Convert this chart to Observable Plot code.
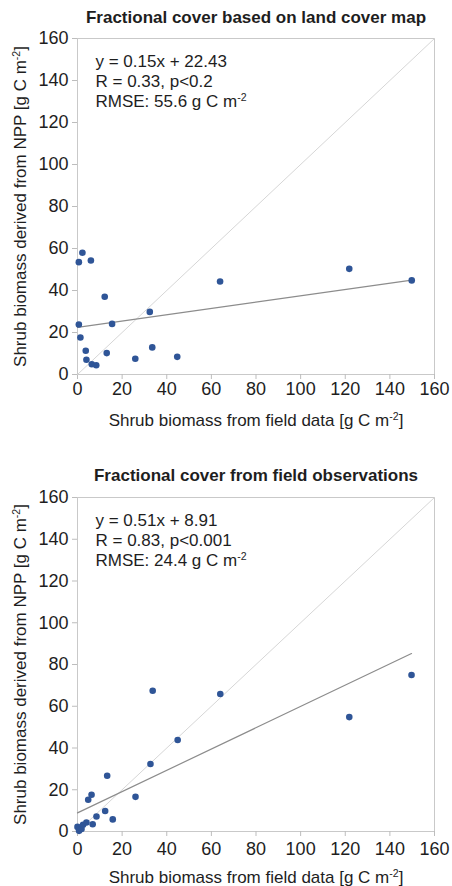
<!DOCTYPE html>
<html><head><meta charset="utf-8">
<script src="https://cdn.jsdelivr.net/npm/d3@7"></script>
<script src="https://cdn.jsdelivr.net/npm/@observablehq/plot@0.6"></script>
<style>body{margin:0;background:#fff}#c svg{display:block}</style>
</head><body><div id="c"></div>
<script>
const titles = ["Fractional cover based on land cover map", "Fractional cover from field observations"];
const xLabel = "Shrub biomass from field data [g C m-2]";
const yLabel = "Shrub biomass derived from NPP [g C m-2]";
const tickValues = [0, 20, 40, 60, 80, 100, 120, 140, 160];

// Panel 1: land cover map
const field1 = [0.6, 2.2, 6.0, 0.6, 1.3, 3.7, 4.0, 6.4, 8.4, 12.2, 13.1, 15.5, 25.9, 32.4, 33.5, 44.7, 63.9, 121.8, 149.8];
const npp1   = [53.5, 58.0, 54.3, 23.8, 17.6, 11.3, 7.0, 4.9, 4.4, 37.0, 10.2, 24.1, 7.5, 29.8, 12.9, 8.4, 44.3, 50.3, 44.8];
const slope1 = 0.15, intercept1 = 22.43;
const stats1 = ["y = 0.15x + 22.43", "R = 0.33, p<0.2", "RMSE: 55.6 g C m-2"];

// Panel 2: field observations
const field2 = [0.0, 0.7, 1.8, 2.5, 4.0, 4.8, 6.3, 6.8, 8.5, 12.4, 13.3, 15.8, 26.0, 32.7, 33.7, 44.9, 64.0, 121.8, 149.7];
const npp2   = [2.2, 0.3, 1.2, 3.2, 4.3, 15.2, 17.6, 3.5, 7.2, 9.8, 26.7, 5.8, 16.6, 32.3, 67.4, 43.8, 65.9, 54.8, 75.0];
const slope2 = 0.51, intercept2 = 8.91;
const stats2 = ["y = 0.51x + 8.91", "R = 0.83, p<0.001", "RMSE: 24.4 g C m-2"];

const FONT = "'Liberation Sans', Arial, Helvetica, sans-serif";

function supify(svg) {
  d3.select(svg).selectAll("text, tspan").each(function() {
    if (this.children.length) return;
    const t = this.textContent;
    const i = t.indexOf("m-2");
    if (i < 0) return;
    const before = t.slice(0, i + 1), after = t.slice(i + 3);
    const sel = d3.select(this);
    sel.text(null);
    sel.append("tspan").text(before);
    sel.append("tspan").attr("dy", -6).attr("font-size", "0.62em").text("-2");
    sel.append("tspan").attr("dy", 6).text(after);
  });
}

function panel({title, xs, ys, slope, intercept, stats, marginTop, marginBottom, titleDy, xTickPad}) {
  const pts = xs.map((x, i) => ({x, y: ys[i]}));
  const xEnd = d3.max(xs);
  const fit = [{x: 0, y: intercept}, {x: xEnd, y: slope * xEnd + intercept}];
  const ident = [{x: 0, y: 0}, {x: 160, y: 160}];
  const svg = Plot.plot({
    width: 452, height: 443,
    marginLeft: 77, marginRight: 18, marginTop, marginBottom,
    style: {fontFamily: FONT, background: "#fff", color: "#1e1e1e", overflow: "visible"},
    x: {domain: [0, 160], ticks: tickValues, label: null},
    y: {domain: [0, 160], ticks: tickValues, label: null},
    marks: [
      Plot.frame({stroke: "#c9c9c9"}),
      Plot.axisX({ticks: tickValues, tickSize: 5, tickPadding: xTickPad, fontSize: 18, stroke: "#bdbdbd", fill: "#1e1e1e", label: null}),
      Plot.axisY({ticks: tickValues, tickSize: 5, tickPadding: 4, fontSize: 18, stroke: "#bdbdbd", fill: "#1e1e1e", label: null}),
      Plot.line(ident, {x: "x", y: "y", stroke: "#d6d6d6", strokeWidth: 1}),
      Plot.line(fit, {x: "x", y: "y", stroke: "#8c8c8c", strokeWidth: 1.2}),
      Plot.dot(pts, {x: "x", y: "y", r: 3.3, fill: "#2f5597", stroke: "none"}),
      Plot.text([title], {frameAnchor: "top", textAnchor: "middle", lineAnchor: "middle", dy: titleDy, fontSize: 17, fontWeight: "bold", fill: "#1e1e1e"}),
      ...stats.map((s, i) => Plot.text([s], {frameAnchor: "top-left", textAnchor: "start", lineAnchor: "middle", dx: 18, dy: 23 + 20 * i, fontSize: 17, fill: "#1e1e1e"})),
      Plot.text([xLabel], {frameAnchor: "bottom", textAnchor: "middle", lineAnchor: "middle", dy: 46, fontSize: 17, fill: "#1e1e1e"}),
      Plot.text([yLabel], {frameAnchor: "left", textAnchor: "middle", lineAnchor: "middle", dx: -57, rotate: -90, fontSize: 17, fill: "#1e1e1e"})
    ]
  });
  supify(svg);
  return svg;
}

const c = document.getElementById("c");
c.appendChild(panel({title: titles[0], xs: field1, ys: npp1, slope: slope1, intercept: intercept1, stats: stats1, marginTop: 38, marginBottom: 69, titleDy: -21, xTickPad: 3}));
c.appendChild(panel({title: titles[1], xs: field2, ys: npp2, slope: slope2, intercept: intercept2, stats: stats2, marginTop: 54, marginBottom: 55, titleDy: -22, xTickPad: 6}));
</script>
</body></html>
